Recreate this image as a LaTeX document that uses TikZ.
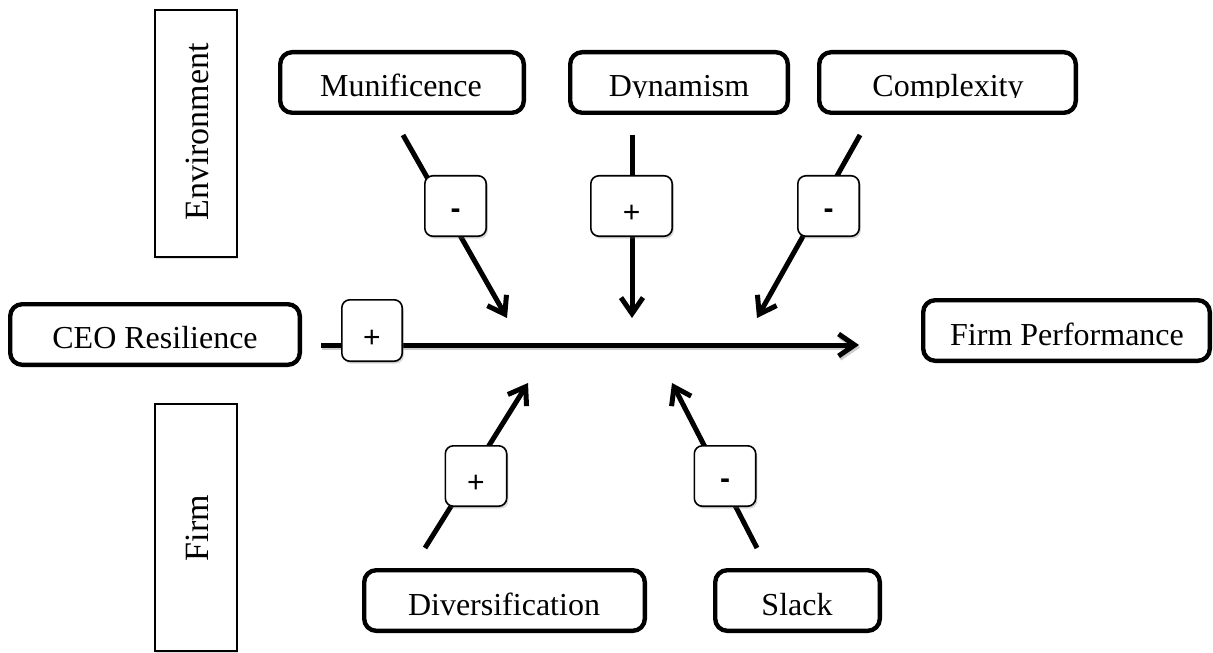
\documentclass[tikz,border=0pt]{standalone}
\usepackage{fontspec}
\setmainfont{Liberation Serif}
\newfontfamily\signfont{Liberation Sans}
\usetikzlibrary{arrows.meta,shadows}
\newcommand{\mysignplus}{\raisebox{-8.3pt}[0pt][0pt]{+}}
\newcommand{\mysignminus}{\raisebox{-6.4pt}[0pt][0pt]{\bfseries -}}
\begin{document}
\begin{tikzpicture}[x=0.5pt,y=-0.5pt,
  bigbox/.style={draw, line width=2.2pt, rounded corners=6pt, minimum height=30.3pt, inner sep=0pt},
  sidebox/.style={draw, line width=0.8pt, fill=white, minimum width=41.2pt, minimum height=123.7pt, inner sep=0pt,
    drop shadow={shadow xshift=0.6pt, shadow yshift=-0.9pt, opacity=0.25}},
  sidetext/.style={rotate=90, inner sep=0pt, font=\fontsize{17pt}{20pt}\selectfont},
  signbox/.style={draw, line width=0.8pt, fill=white, rounded corners=4pt, minimum width=30.7pt, minimum height=30.2pt, inner sep=0pt,
    font=\signfont\fontsize{15pt}{17pt}\selectfont,
    drop shadow={shadow xshift=0.8pt, shadow yshift=-1.2pt, opacity=0.3}},
  lbl/.style={font=\fontsize{16pt}{19pt}\selectfont, anchor=base, inner sep=0pt},
  arr/.style={line width=2.5pt, -{Straight Barb[length=8pt,width=11pt]}}
]
\path[fill=white, use as bounding box] (0,0) rectangle (1213,652);

% side category boxes
\node[sidebox] (env) at (196,133.5) {};
\node[sidetext] (envt) at (197,132) {Environment};
\node[sidebox] (firm) at (196,527.5) {};
\node[sidetext] (firmt) at (197,528) {Firm};

% main boxes
\node[bigbox, minimum width=121.8pt] (muni) at (402,82.5) {};
\node[bigbox, minimum width=108.8pt] (dyn) at (679,82.5) {};
\node[bigbox, minimum width=128.3pt] (comp) at (947.5,82.5) {};
\begin{scope}
  \clip (270,40) rectangle (1090,97.5);
  \node[lbl] (munit) at (401,97) {Munificence};
  \node[lbl] (dynt) at (679,97) {Dynamism};
  \node[lbl] (compt) at (948,97) {Complexity};
\end{scope}

\node[bigbox, minimum width=144.8pt] (ceo) at (155,334.5) {};
\node[lbl] (ceot) at (155,348) {CEO Resilience};
\node[bigbox, minimum width=143.3pt] (perf) at (1066.5,330.5) {};
\node[lbl] (perft) at (1067,345) {Firm Performance};
\node[bigbox, minimum width=140.3pt] (div) at (504.5,600.5) {};
\node[lbl] (divt) at (504,615) {Diversification};
\node[bigbox, minimum width=82.3pt] (slack) at (797.5,600.5) {};
\node[lbl] (slackt) at (797,615) {Slack};

% connector end points
\coordinate (m1) at (403,135);  \coordinate (m2) at (507,318);
\coordinate (d1) at (632,135);  \coordinate (d2) at (632,318);
\coordinate (c1) at (860,135);  \coordinate (c2) at (757,318);
\coordinate (e1) at (321,345);  \coordinate (e2) at (859,345);
\coordinate (v1) at (425,548);  \coordinate (v2) at (528,383);
\coordinate (s1) at (757,548);  \coordinate (s2) at (672,383);

% main arrow shadow and arrows
\draw[line width=2.5pt, black!20, -{Straight Barb[length=8pt,width=11pt]}, transform canvas={yshift=-1.2pt, xshift=0.6pt}] (e1) -- (e2);
\draw[arr] (e1) -- (e2);
\draw[arr] (m1) -- (m2);
\draw[arr] (d1) -- (d2);
\draw[arr] (c1) -- (c2);
\draw[arr] (v1) -- (v2);
\draw[arr] (s1) -- (s2);

% sign boxes
\node[signbox] (sm) at (455.5,206) {\mysignminus};
\node[signbox, minimum width=40.7pt] (sd) at (631.5,206) {\mysignplus};
\node[signbox] (sc) at (828.5,206) {\mysignminus};
\node[signbox, minimum width=30.2pt, minimum height=30.7pt] (sceo) at (372,330.5) {\mysignplus};
\node[signbox] (sdiv) at (476,476) {\mysignplus};
\node[signbox] (ssl) at (725,476) {\mysignminus};
\end{tikzpicture}
\end{document}
